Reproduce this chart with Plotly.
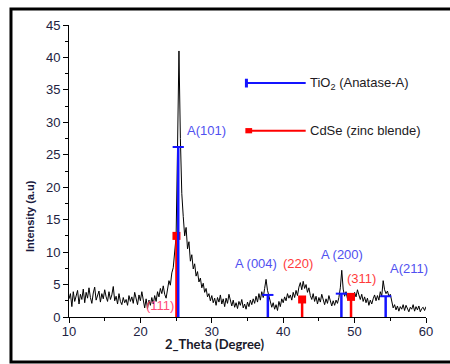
import plotly.graph_objects as go

# ---- data ----
two_theta_start = 10.0
two_theta_step = 0.2
intensity = [
    2.8, 3.6, 1.6, 3.9, 2.4,
    3.2, 4.1, 2.0, 3.5, 2.7,
    4.3, 2.2, 3.8, 2.9, 4.5,
    3.0, 2.1, 3.7, 4.6, 2.6,
    3.3, 4.0, 2.3, 3.6, 2.8,
    4.2, 3.1, 2.4, 3.9, 2.7,
    3.4, 4.7, 2.5, 3.2, 2.0,
    3.6, 2.4, 1.9, 3.0, 2.2,
    2.7, 1.8, 3.3, 2.4, 3.1,
    2.1, 3.8, 2.6, 1.9, 3.4,
    2.5, 3.9, 2.2, 1.4, 2.8,
    1.3, 2.6, 1.8, 3.0, 2.0,
    3.3, 2.4, 3.9, 3.1, 4.4,
    3.6, 4.8, 3.5, 2.9, 4.6,
    5.6, 4.9, 6.8, 7.6, 9.5,
    12.4, 26.0, 41.0, 27.5, 19.0,
    15.5, 12.5, 13.8, 10.5, 11.6,
    8.6, 9.6, 7.4, 8.2, 6.3,
    7.0, 5.4, 6.0, 4.5, 5.2,
    3.8, 4.4, 3.1, 3.6, 2.5,
    3.3, 2.2, 2.9, 1.8, 3.0,
    2.3, 3.4, 2.0, 2.8, 1.6,
    2.9, 2.1, 3.5, 2.4, 1.7,
    2.6, 1.5, 2.2, 1.3, 2.4,
    1.8, 2.7, 1.4, 2.0, 1.2,
    2.3, 1.6, 2.6, 1.9, 2.8,
    2.1, 3.2, 2.3, 3.6, 2.6,
    3.9, 3.0, 4.4, 5.8, 4.1,
    3.2, 2.4, 1.5, 2.2, 1.2,
    1.9, 1.0, 2.4, 1.6, 2.8,
    2.2, 3.1, 2.5, 3.6, 2.9,
    3.4, 2.6, 3.8, 3.0, 4.1,
    3.3, 4.6, 5.3, 4.2, 5.5,
    4.4, 5.0, 3.8, 4.5, 3.3,
    2.7, 3.6, 2.4, 3.2, 2.0,
    3.0, 2.3, 3.5, 2.6, 1.9,
    2.8, 2.1, 3.3, 2.4, 1.7,
    2.5, 1.8, 2.6, 2.1, 3.0,
    4.5, 7.2, 4.3, 3.2, 3.9,
    2.8, 3.6, 2.6, 3.5, 2.9,
    3.8, 3.1, 4.2, 3.4, 2.7,
    3.5, 2.4, 3.1, 2.2, 2.9,
    1.8, 2.6, 2.0, 2.8, 3.4,
    2.5, 3.3, 2.6, 3.9, 3.2,
    5.6, 4.2, 3.6, 4.0, 3.2,
    3.5, 2.1, 1.4, 1.9, 1.1,
    1.7, 0.9, 1.6, 1.2, 1.9,
    1.0, 1.8, 1.3, 0.8, 1.5,
    1.2, 1.9, 0.9, 1.6, 1.1,
    1.7, 0.8, 1.3, 1.5, 1.0,
    1.6,
]
two_theta = [round(two_theta_start + i * two_theta_step, 2) for i in range(len(intensity))]

tio2_pos = [25.3, 37.85, 48.15, 54.35]
tio2_height = [26.2, 3.4, 3.6, 3.2]
tio2_labels = ["A(101)", "A (004)", "A (200)", "A(211)"]
tio2_label_x = [29.3, 36.2, 48.25, 57.6]
tio2_label_y = [28.8, 8.3, 9.7, 7.55]

cdse_pos = [25.05, 42.65, 49.5]
cdse_height = [12.5, 2.7, 3.1]
cdse_labels = ["(111)", "(220)", "(311)"]
cdse_label_x = [22.75, 42.1, 50.9]
cdse_label_y = [1.85, 8.3, 6.0]

x_ticks = [10, 20, 30, 40, 50, 60]
y_ticks = [0, 5, 10, 15, 20, 25, 30, 35, 40, 45]

BLUE = "#1414ff"
RED = "#ff0000"
TICK_COLOR = "#22223f"

def drops(pos, h):
    xs, ys = [], []
    for p, v in zip(pos, h):
        xs += [p, p, None]
        ys += [0, v, None]
    return xs, ys

fig = go.Figure()
fig.add_trace(go.Scatter(x=two_theta, y=intensity, mode="lines",
                         line=dict(color="black", width=1), showlegend=False))

rx, ry = drops(cdse_pos, cdse_height)
fig.add_trace(go.Scatter(x=rx, y=ry, mode="lines", line=dict(color=RED, width=2.5),
                         showlegend=False))
fig.add_trace(go.Scatter(x=cdse_pos, y=cdse_height, mode="markers",
                         marker=dict(symbol="square", size=8, color=RED), showlegend=False))

bx, by = drops(tio2_pos, tio2_height)
fig.add_trace(go.Scatter(x=bx, y=by, mode="lines", line=dict(color=BLUE, width=2.5),
                         showlegend=False))
fig.add_trace(go.Scatter(x=tio2_pos, y=tio2_height, mode="markers",
                         marker=dict(symbol="line-ew", size=8,
                                     line=dict(color=BLUE, width=2)),
                         showlegend=False))

annotations = []
for t, x, y in zip(tio2_labels, tio2_label_x, tio2_label_y):
    annotations.append(dict(x=x, y=y, xref="x", yref="y", text=t, showarrow=False,
                            xanchor="center", yanchor="middle",
                            font=dict(family="Liberation Sans, Arial", size=13, color="#5050f0")))
cdse_colors = ["#ff4a7a", "#ff3b3b", "#ff3b3b"]
for t, x, y, c in zip(cdse_labels, cdse_label_x, cdse_label_y, cdse_colors):
    annotations.append(dict(x=x, y=y, xref="x", yref="y", text=t, showarrow=False,
                            xanchor="center", yanchor="middle",
                            font=dict(family="Liberation Sans, Arial", size=13, color=c)))

# legend texts
annotations.append(dict(x=0.669, y=0.801, xref="paper", yref="paper",
                        xanchor="left", yanchor="middle",
                        text="TiO<sub>2</sub> (Anatase-A)", showarrow=False,
                        font=dict(family="Liberation Sans, Arial", size=13, color="#221a22")))
annotations.append(dict(x=0.669, y=0.638, xref="paper", yref="paper",
                        xanchor="left", yanchor="middle",
                        text="CdSe (zinc blende)", showarrow=False,
                        font=dict(family="Liberation Sans, Arial", size=13, color="#221a22")))
# axis titles
annotations.append(dict(x=-0.109, y=0.346, xref="paper", yref="paper", textangle=-90,
                        xanchor="center", yanchor="middle",
                        text="<b>Intensity (a.u)</b>", showarrow=False,
                        font=dict(family="Liberation Sans, Arial", size=11, color="#1a1a40")))
annotations.append(dict(x=0.4076, y=-0.0925, xref="paper", yref="paper",
                        xanchor="center", yanchor="middle",
                        text="<b>2_Theta (Degree)</b>", showarrow=False,
                        font=dict(family="Lato, Open Sans", size=13, color="#1a1a2a")))

shapes = [
    # outer frame
    dict(type="rect", xref="paper", yref="paper", x0=-0.1625, x1=1.3, y0=-0.154, y1=1.0548,
         line=dict(color="black", width=3), fillcolor="rgba(0,0,0,0)", layer="below"),
    # legend symbols
    dict(type="line", xref="paper", yref="paper", x0=0.496, x1=0.663, y0=0.801, y1=0.801,
         line=dict(color=BLUE, width=2)),
    dict(type="line", xref="paper", yref="paper", x0=0.497, x1=0.497, y0=0.786, y1=0.816,
         line=dict(color=BLUE, width=3)),
    dict(type="line", xref="paper", yref="paper", x0=0.496, x1=0.663, y0=0.638, y1=0.638,
         line=dict(color=RED, width=2)),
    dict(type="rect", xref="paper", yref="paper", x0=0.494, x1=0.513, y0=0.629, y1=0.647,
         line=dict(color=RED, width=0), fillcolor=RED),
]

fig.update_layout(
    width=450, height=364,
    margin=dict(l=69, r=24, t=25, b=47),
    paper_bgcolor="white", plot_bgcolor="white",
    showlegend=False,
    annotations=annotations,
    shapes=shapes,
    xaxis=dict(range=[10, 60], tickvals=x_ticks, showgrid=False, zeroline=False,
               showline=True, linecolor="black", linewidth=1,
               ticks="outside", ticklen=5, tickcolor="black", tickwidth=1,
               ticklabelstandoff=-3,
               minor=dict(dtick=5, ticks="outside", ticklen=3, tickcolor="black", tick0=10),
               tickfont=dict(family="Liberation Sans, Arial", size=13, color=TICK_COLOR)),
    yaxis=dict(range=[0, 45], tickvals=y_ticks, showgrid=False, zeroline=False,
               showline=True, linecolor="black", linewidth=1,
               ticks="outside", ticklen=5, tickcolor="black", tickwidth=1,
               minor=dict(dtick=2.5, ticks="outside", ticklen=3, tickcolor="black", tick0=0),
               tickfont=dict(family="Liberation Sans, Arial", size=13, color=TICK_COLOR)),
)

fig.write_html("out.html")
